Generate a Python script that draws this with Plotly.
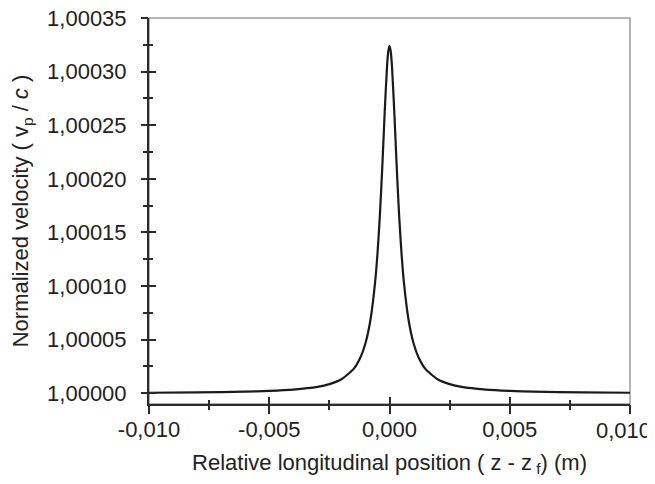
import plotly.graph_objects as go

# Data
z_pos = [-0.010, -0.008, -0.006, -0.005, -0.004, -0.003, -0.0025, -0.002, -0.0015,
         -0.0012, -0.0010, -0.0008, -0.0006, -0.0005, -0.0004, -0.0003, -0.0002,
         -0.0001, -0.00005, 0.0,
         0.00005, 0.0001, 0.0002, 0.0003, 0.0004, 0.0005, 0.0006, 0.0008, 0.0010,
         0.0012, 0.0015, 0.002, 0.0025, 0.003, 0.004, 0.005, 0.006, 0.008, 0.010]
vp_c = [1.0000005, 1.0000009, 1.0000015, 1.0000022, 1.0000034, 1.0000059, 1.0000085,
        1.0000131, 1.0000225, 1.0000339, 1.0000466, 1.0000674, 1.0001032, 1.0001303,
        1.0001660, 1.0002110, 1.0002620, 1.0003060, 1.0003190, 1.0003240,
        1.0003190, 1.0003060, 1.0002620, 1.0002110, 1.0001660, 1.0001303, 1.0001032,
        1.0000674, 1.0000466, 1.0000339, 1.0000225, 1.0000131, 1.0000085, 1.0000059,
        1.0000034, 1.0000022, 1.0000015, 1.0000009, 1.0000005]

x_ticks = [-0.010, -0.005, 0.0, 0.005, 0.010]
x_tick_labels = ["-0,010", "-0,005", "0,000", "0,005", "0,010"]
y_ticks = [1.00000, 1.00005, 1.00010, 1.00015, 1.00020, 1.00025, 1.00030, 1.00035]
y_tick_labels = ["1,00000", "1,00005", "1,00010", "1,00015", "1,00020", "1,00025", "1,00030", "1,00035"]

x_range = [-0.010, 0.010]
y_range = [0.99999, 1.00035]

FONT = "Liberation Sans, Arial, sans-serif"
AX = "#2b2b2b"
TXT = "#222"
FS = 22

fig = go.Figure()
fig.add_trace(go.Scatter(x=z_pos, y=vp_c, mode="lines",
                         line=dict(color="#1a1a1a", width=2.2, shape="spline", smoothing=0.6),
                         showlegend=False, hoverinfo="skip"))
# empty traces so the tick-only overlay axes get drawn
for xa, ya in (("x2", "y2"), ("x3", "y3")):
    fig.add_trace(go.Scatter(x=[None], y=[None], xaxis=xa, yaxis=ya, mode="lines",
                             showlegend=False, hoverinfo="skip"))

# thin frame (top/right)
fig.add_shape(type="rect", xref="paper", yref="paper", x0=0, y0=0, x1=1, y1=1,
              line=dict(color="#6a6a6a", width=1), layer="below")

# last x tick label, pulled in so it stays inside the picture (as in the original)
fig.add_annotation(x=x_ticks[-1], xref="x", y=0, yref="paper", text=x_tick_labels[-1],
                   showarrow=False, xanchor="right", yanchor="middle", xshift=23, yshift=-26,
                   font=dict(family=FONT, size=FS, color=TXT))

def tick_axis(rng, t0, dt, mdt, direction, major_len, minor_len, overlay, side):
    return dict(range=rng, overlaying=overlay, anchor=("y" if overlay == "x" else "x"), side=side,
                tick0=t0, dtick=dt, automargin=False, fixedrange=True,
                showgrid=False, zeroline=False, showline=False, showticklabels=False,
                ticks=direction, ticklen=major_len, tickwidth=1.5, tickcolor=AX,
                minor=dict(dtick=mdt, tick0=t0, ticks=direction, ticklen=minor_len,
                           tickwidth=1.5, tickcolor=AX, showgrid=False))

fig.update_layout(
    width=647, height=476, autosize=False,
    margin=dict(l=141, r=25, t=10, b=80),
    paper_bgcolor="white", plot_bgcolor="white",
    font=dict(family=FONT, size=FS, color=TXT),
    xaxis=dict(range=x_range, tickvals=x_ticks[:-1], ticktext=x_tick_labels[:-1], automargin=False,
               showgrid=False, zeroline=False, showline=True, linecolor=AX, linewidth=2,
               ticks="", ticklabelstandoff=5, ticklabeloverflow="allow",
               tickfont=dict(family=FONT, size=FS, color=TXT),
               title=dict(text="Relative longitudinal position ( z - z<sub> f</sub>) (m)",
                          font=dict(family=FONT, size=FS, color=TXT), standoff=13)),
    yaxis=dict(range=y_range, tickvals=y_ticks, ticktext=y_tick_labels, automargin=False,
               showgrid=False, zeroline=False, showline=True, linecolor=AX, linewidth=2,
               ticks="", ticklabelstandoff=16, ticklabeloverflow="allow",
               tickfont=dict(family=FONT, size=FS, color=TXT),
               title=dict(text="Normalized velocity ( v<sub>p</sub> / <i>c</i> )",
                          font=dict(family=FONT, size=FS, color=TXT), standoff=14)),
    xaxis2=tick_axis(x_range, -0.010, 0.005, 0.0025, "outside", 9, 5, "x", "bottom"),
    xaxis3=tick_axis(x_range, -0.010, 0.005, 0.0025, "inside", 7, 4, "x", "bottom"),
    yaxis2=tick_axis(y_range, 1.0, 0.00005, 0.000025, "outside", 7, 5, "y", "left"),
    yaxis3=tick_axis(y_range, 1.0, 0.00005, 0.000025, "inside", 7, 4, "y", "left"),
)

fig.write_html("out.html")
